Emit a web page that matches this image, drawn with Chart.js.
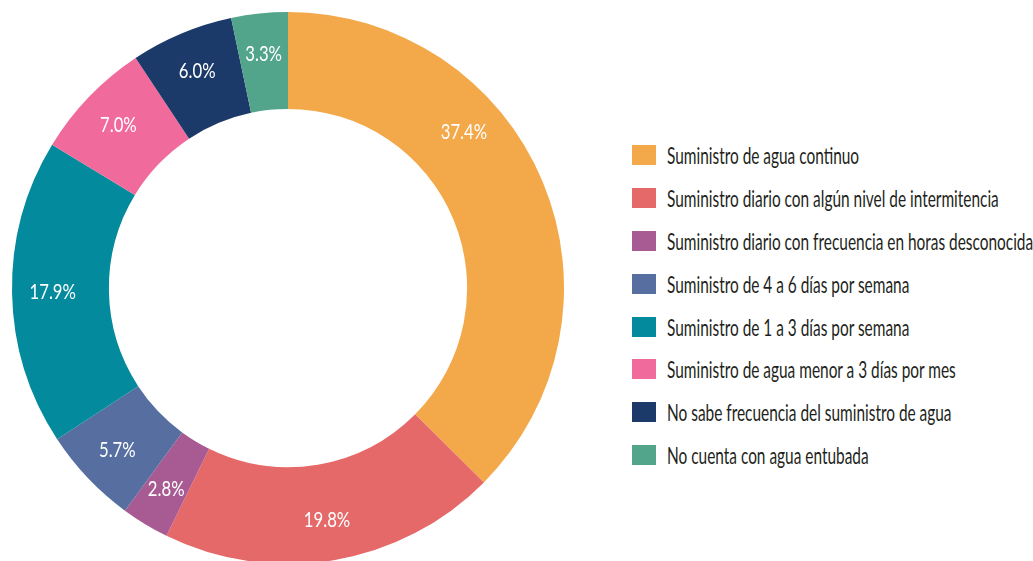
<!DOCTYPE html>
<html>
<head>
<meta charset="utf-8">
<script src="https://cdn.jsdelivr.net/npm/chart.js@4"></script>
<style>
  html, body { margin: 0; padding: 0; background: #fff; }
  body { width: 1033px; height: 561px; overflow: hidden; position: relative; font-family: Lato, "Open Sans", sans-serif; }
  #pieBox { position: absolute; left: 0; top: 0; width: 576px; height: 576px; }
  #legend { position: absolute; left: 632px; top: 145px; margin: 0; padding: 0; list-style: none; }
  #legend li { height: 20px; margin-bottom: 22.9px; display: flex; align-items: center; white-space: nowrap;
               font-size: 23px; color: #231f20; }
  #legend .box { width: 24px; height: 20px; margin-right: 11px; flex: none; }
  /* no hay fuente condensada instalada: se comprime a lo ancho */
  #legend .txt { display: inline-block; transform: scaleX(0.67); transform-origin: 0 50%; }
</style>
</head>
<body>
<div id="pieBox"><canvas id="suministroChart"></canvas></div>
<ul id="legend"></ul>
<script>
// categorias y valores (%)
const categorias = [
  "Suministro de agua continuo",
  "Suministro diario con algún nivel de intermitencia",
  "Suministro diario con frecuencia en horas desconocida",
  "Suministro de 4 a 6 días por semana",
  "Suministro de 1 a 3 días por semana",
  "Suministro de agua menor a 3 días por mes",
  "No sabe frecuencia del suministro de agua",
  "No cuenta con agua entubada",
];
const porcentajes = [37.4, 19.8, 2.8, 5.7, 17.9, 7.0, 6.0, 3.3];
const colores = ["#F3A84A", "#E56969", "#A85B92", "#566FA0", "#038A9C", "#F06B9B", "#1C3A69", "#52A48A"];

// etiquetas blancas dentro de cada segmento
const etiquetasPlugin = {
  id: "etiquetas",
  afterDatasetsDraw(chart, args, opts) {
    const ctx = chart.ctx;
    const meta = chart.getDatasetMeta(0);
    meta.data.forEach((arc, i) => {
      const p = arc.getProps(["x", "y", "startAngle", "endAngle", "innerRadius", "outerRadius"], true);
      const shift = ((opts.angleShift || {})[i] || 0) * Math.PI / 180;
      const ang = (p.startAngle + p.endAngle) / 2 + shift;
      const r = p.innerRadius + 0.58 * (p.outerRadius - p.innerRadius);
      const val = chart.data.datasets[0].data[i];
      ctx.save();
      ctx.translate(p.x + Math.cos(ang) * r, p.y + Math.sin(ang) * r);
      ctx.scale(0.76, 1);
      ctx.fillStyle = "#fff";
      ctx.font = "22px Lato, sans-serif";
      ctx.textAlign = "center";
      ctx.textBaseline = "middle";
      ctx.fillText(val.toFixed(1) + "%", 0, 0);
      ctx.restore();
    });
  },
};

const chart = new Chart(document.getElementById("suministroChart"), {
  type: "doughnut",
  data: {
    labels: categorias,
    datasets: [{ data: porcentajes, backgroundColor: colores, borderWidth: 0 }],
  },
  options: {
    responsive: true,
    maintainAspectRatio: false,
    animation: false,
    cutout: "64.9%",
    layout: { padding: 12 },
    plugins: {
      legend: { display: false },
      tooltip: { enabled: false },
      etiquetas: { angleShift: { 0: -19 } },
    },
  },
  plugins: [etiquetasPlugin],
});

// leyenda a la derecha
const ul = document.getElementById("legend");
categorias.forEach((c, i) => {
  const li = document.createElement("li");
  const box = document.createElement("span");
  box.className = "box";
  box.style.background = colores[i];
  const txt = document.createElement("span");
  txt.className = "txt";
  txt.textContent = c;
  li.appendChild(box);
  li.appendChild(txt);
  ul.appendChild(li);
});
</script>
</body>
</html>
